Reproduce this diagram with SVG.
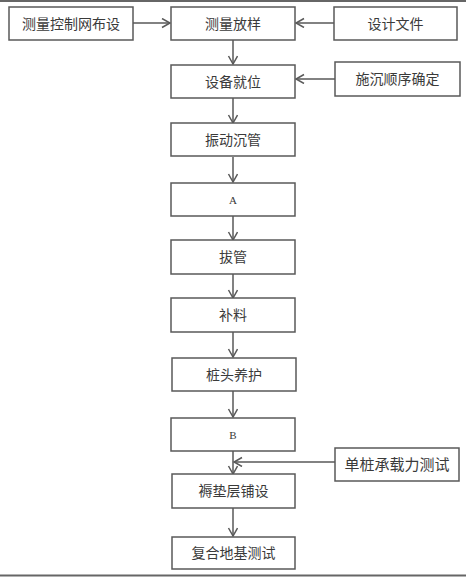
<svg xmlns="http://www.w3.org/2000/svg" width="466" height="578" viewBox="0 0 466 578">
<style>
.box{fill:#fff;stroke:#595959;stroke-width:1.5}
.t{font-family:"Liberation Sans","Noto Sans CJK SC",sans-serif;font-size:14px;fill:#3a3a3a;text-anchor:middle;dominant-baseline:central}
.s{font-family:"Liberation Serif","Noto Sans CJK SC",serif;font-size:11px;fill:#3a3a3a;text-anchor:middle;dominant-baseline:central}
.c{stroke:#595959;stroke-width:1.5;fill:none;marker-end:url(#ah)}
.frame{stroke:#666;stroke-width:2}
</style>
<defs>
<marker id="ah" markerUnits="userSpaceOnUse" markerWidth="12" markerHeight="12" refX="9" refY="5" orient="auto">
<path d="M1,0.5 L9,5 L1,9.5" fill="none" stroke="#595959" stroke-width="1.5"/>
</marker>
</defs>
<line class="frame" x1="0" y1="1" x2="466" y2="1"/>
<line class="frame" x1="0" y1="575.5" x2="466" y2="575.5"/>
<g id="connectors">
<line class="c" x1="133" y1="23" x2="170" y2="23"/>
<line class="c" x1="334" y1="23" x2="296" y2="23"/>
<line class="c" x1="233" y1="40" x2="233" y2="64"/>
<line class="c" x1="335" y1="79" x2="296" y2="79"/>
<line class="c" x1="233" y1="98" x2="233" y2="123"/>
<line class="c" x1="233" y1="157" x2="233" y2="182"/>
<line class="c" x1="233" y1="216" x2="233" y2="240"/>
<line class="c" x1="233" y1="274" x2="233" y2="298"/>
<line class="c" x1="233" y1="332" x2="233" y2="357"/>
<line class="c" x1="233" y1="391" x2="233" y2="417"/>
<line class="c" x1="233" y1="451" x2="233" y2="474"/>
<line class="c" x1="335" y1="462" x2="234" y2="462"/>
<line class="c" x1="233" y1="508" x2="233" y2="536"/>
</g>
<g id="n1"><rect class="box" x="9" y="7" width="124" height="33"/><text class="t" x="71" y="23.5">测量控制网布设</text></g>
<g id="n2"><rect class="box" x="171" y="7" width="124" height="33"/><text class="t" x="233" y="23.5">测量放样</text></g>
<g id="n3"><rect class="box" x="334" y="7" width="123" height="33"/><text class="t" x="395.5" y="23.5">设计文件</text></g>
<g id="n4"><rect class="box" x="171" y="65" width="124" height="33"/><text class="t" x="233" y="81.5">设备就位</text></g>
<g id="n5"><rect class="box" x="335" y="62" width="125" height="34"/><text class="t" x="397.5" y="79">施沉顺序确定</text></g>
<g id="n6"><rect class="box" x="171" y="123" width="124" height="33"/><text class="t" x="233" y="139.5">振动沉管</text></g>
<g id="n7"><rect class="box" x="171" y="183" width="124" height="33"/><text class="s" x="233" y="199.5">A</text></g>
<g id="n8"><rect class="box" x="171" y="240" width="124" height="34"/><text class="t" x="233" y="257">拔管</text></g>
<g id="n9"><rect class="box" x="171" y="298" width="124" height="34"/><text class="t" x="233" y="315">补料</text></g>
<g id="n10"><rect class="box" x="172" y="358" width="124" height="33"/><text class="t" x="234" y="374.5">桩头养护</text></g>
<g id="n11"><rect class="box" x="171" y="418" width="124" height="33"/><text class="s" x="233" y="434.5">B</text></g>
<g id="n12"><rect class="box" x="335" y="448" width="124" height="33"/><text class="t" x="397" y="464.5" style="font-size:15px">单桩承载力测试</text></g>
<g id="n13"><rect class="box" x="172" y="474" width="123" height="34"/><text class="t" x="233.5" y="491">褥垫层铺设</text></g>
<g id="n14"><rect class="box" x="172" y="537" width="123" height="32"/><text class="t" x="233.5" y="553">复合地基测试</text></g>
</svg>
